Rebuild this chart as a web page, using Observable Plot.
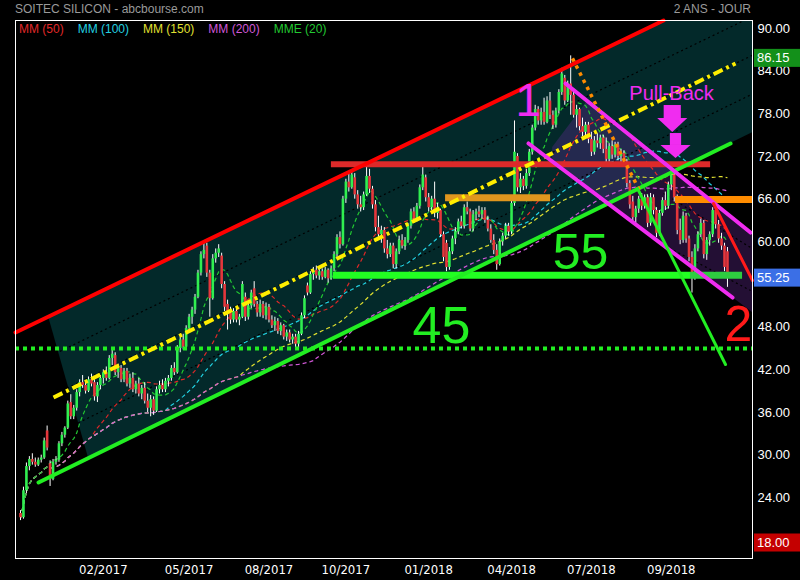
<!DOCTYPE html>
<html lang="fr">
<head>
<meta charset="utf-8">
<title>SOITEC SILICON - abcbourse.com</title>
<script src="https://cdn.jsdelivr.net/npm/d3@7"></script>
<script src="https://cdn.jsdelivr.net/npm/@observablehq/plot@0.6"></script>
<style>
  html, body { margin: 0; padding: 0; background: #000; }
  #chart { width: 800px; height: 580px; }
</style>
</head>
<body>
<div id="chart"></div>
<script>
// ---- Daily candles (each candle covers about two sessions) ----
const open = [
21.8,21.2,25.0,28.4,29.4,29.0,28.6,29.3,29.6,33.4,
28.8,26.6,29.0,29.3,31.6,32.8,33.8,37.4,35.4,36.6,
38.8,40.2,39.8,39.0,40.6,40.2,38.2,39.8,40.8,41.6,
40.8,43.6,44.0,41.6,42.2,40.6,41.8,40.0,40.8,39.2,
40.0,38.6,39.4,37.6,36.6,37.8,36.2,39.2,39.8,39.2,
40.4,40.8,42.2,41.6,45.0,46.2,45.2,47.8,49.4,50.4,
52.2,55.6,58.2,59.4,55.6,52.0,57.6,58.4,58.0,54.0,
51.2,50.0,49.0,50.2,49.0,49.4,52.2,49.4,51.0,53.4,
51.2,50.0,51.2,49.6,50.8,49.0,48.2,48.8,47.4,48.2,
46.6,47.2,46.2,46.6,45.6,47.0,49.6,53.8,52.8,55.4,
56.0,55.2,55.8,55.0,56.0,54.8,56.2,58.2,60.6,59.6,
66.0,68.4,67.6,69.0,66.6,65.2,64.8,66.6,69.2,67.4,
65.2,62.0,61.0,61.6,59.0,58.2,59.4,56.8,58.6,60.2,
59.4,60.2,62.2,64.2,63.2,65.0,67.6,69.0,66.2,64.8,
66.0,64.0,64.4,61.0,59.8,56.4,58.6,60.4,61.4,62.8,
62.2,64.8,64.2,61.8,63.8,64.2,63.8,64.4,63.0,61.8,
60.2,58.8,56.8,60.0,60.8,62.2,61.4,65.4,72.0,67.6,
68.8,67.8,69.6,72.6,76.0,78.6,77.0,78.2,76.8,79.8,
77.8,76.4,78.4,81.0,83.0,79.8,82.2,80.6,77.8,78.6,
76.2,75.4,76.4,74.4,72.6,74.2,73.8,74.6,73.0,71.6,
73.4,72.2,73.6,72.0,72.4,71.2,68.2,65.6,63.4,64.6,
66.0,65.0,66.2,62.6,66.2,64.4,61.2,64.0,65.8,65.0,
68.0,69.4,66.2,61.6,60.2,63.6,60.4,57.8,55.0,59.0,
61.0,62.6,58.2,60.2,61.0,64.4,62.4,60.4,59.4,58.6
];
const high = [
22.2,25.5,28.9,29.8,30.2,29.6,29.6,30.0,32.4,34.1,
29.2,29.4,29.8,31.9,33.2,34.0,37.6,38.5,37.0,39.2,
40.6,41.2,40.4,41.0,41.4,40.6,40.2,41.2,42.0,42.4,
44.0,45.0,44.4,42.8,42.6,42.2,42.2,41.4,41.6,40.4,
40.8,39.8,40.2,38.6,38.4,38.2,39.6,40.4,40.6,40.8,
41.2,42.6,43.0,45.4,46.6,47.0,48.2,49.8,50.8,52.6,
56.0,58.6,59.8,59.8,56.0,58.2,59.0,59.6,58.4,54.4,
51.8,50.8,50.6,50.6,49.8,54.4,52.8,51.6,53.2,54.4,
51.6,51.8,51.6,51.4,51.2,49.6,49.4,49.2,48.6,48.4,
47.6,47.6,47.0,47.0,47.4,50.0,52.4,54.2,55.8,56.4,
56.6,56.2,56.2,56.4,56.2,56.6,58.6,61.0,61.4,66.4,
68.8,69.6,70.0,69.6,67.2,66.4,67.0,70.6,70.2,67.8,
65.8,63.6,62.2,62.0,60.2,59.8,59.8,59.0,60.8,61.0,
60.6,62.6,64.6,64.8,65.4,68.0,70.6,69.4,66.8,66.4,
68.4,65.4,64.6,61.4,60.2,59.2,60.8,62.0,63.2,63.6,
65.2,65.6,64.6,64.4,64.6,65.0,64.8,64.8,63.6,62.4,
61.0,59.6,60.4,61.2,62.6,62.6,65.8,77.0,72.4,69.6,
69.2,70.2,73.0,76.4,79.2,79.0,78.8,80.2,80.4,81.0,
78.4,78.8,81.4,84.4,83.4,82.6,86.15,81.2,79.2,78.8,
77.4,76.8,76.8,75.4,74.8,75.2,75.0,75.0,74.6,73.8,
74.2,74.0,74.0,73.0,72.8,71.6,68.6,66.4,65.0,66.4,
66.8,66.6,66.6,66.8,66.6,64.8,64.4,66.2,67.0,68.4,
70.0,69.8,66.6,63.2,64.2,64.0,60.8,58.6,59.6,61.4,
63.2,63.0,60.6,61.4,64.8,64.8,63.0,61.2,59.8,59.2
];
const low = [
20.8,21.0,24.6,27.8,28.6,28.3,28.4,28.9,29.4,30.6,
25.6,26.4,28.6,29.0,31.2,32.4,33.6,35.0,35.0,36.2,
38.2,39.4,38.6,38.8,39.6,37.6,37.4,39.2,40.0,40.4,
40.6,42.6,41.2,40.8,40.2,40.2,39.6,39.4,38.8,38.6,
38.2,37.8,37.2,36.0,35.4,35.6,36.0,38.6,38.8,38.8,
39.6,40.4,41.2,41.4,44.4,44.8,45.0,47.4,48.4,49.8,
52.0,55.2,57.6,55.0,49.4,51.8,57.0,57.8,53.4,50.2,
47.6,48.4,48.6,48.6,48.2,49.2,48.8,49.0,50.6,50.8,
49.4,49.4,49.2,49.0,48.6,47.8,47.4,47.0,46.8,46.2,
46.0,45.8,45.6,45.0,45.0,46.8,49.2,52.4,52.6,54.6,
54.8,54.6,54.6,54.8,54.2,54.6,55.8,57.8,59.0,59.4,
65.4,67.0,67.4,66.0,64.6,64.2,64.4,66.4,66.8,64.6,
61.4,60.4,59.8,58.4,57.6,57.8,56.2,56.2,58.2,59.0,
58.8,59.8,61.8,62.6,62.8,64.6,67.2,65.6,64.2,64.4,
63.4,63.2,60.6,57.2,55.8,56.0,58.2,59.6,61.0,61.8,
61.8,63.8,61.4,61.4,63.0,63.4,63.2,62.6,61.4,59.8,
58.2,56.0,56.6,59.4,60.4,60.8,61.0,65.0,67.0,66.8,
67.2,67.4,69.2,72.2,75.6,76.4,76.4,76.4,76.6,77.2,
75.8,76.0,78.0,80.6,79.2,79.6,77.8,77.4,76.0,75.6,
74.8,74.6,73.8,72.0,72.2,73.2,73.0,72.4,71.0,71.2,
71.6,71.8,71.4,70.8,70.6,67.6,64.6,62.8,62.6,64.0,
64.4,64.6,62.0,62.2,63.8,60.6,60.8,63.6,64.4,64.6,
67.2,65.6,61.0,59.6,59.8,59.8,57.2,52.8,54.6,58.6,
60.6,57.6,57.4,59.4,60.6,61.8,59.8,58.8,55.8,53.6
];
const close = [
21.2,25.0,28.4,29.4,29.0,28.6,29.3,29.6,32.0,31.0,
26.6,29.0,29.3,31.6,32.8,33.8,37.2,35.4,36.6,38.8,
40.2,39.8,39.0,40.6,40.0,38.2,39.8,40.8,41.6,40.8,
43.6,44.2,41.6,42.2,40.6,41.8,40.0,40.8,39.2,40.0,
38.6,39.4,37.6,36.6,37.8,36.2,39.2,39.8,39.2,40.4,
40.8,42.2,41.6,45.0,46.2,45.2,47.8,49.4,50.4,52.2,
55.6,58.2,58.8,55.6,52.0,57.6,58.4,59.0,54.0,50.8,
50.0,49.0,50.2,49.0,49.4,54.0,49.4,51.0,52.8,51.2,
50.0,51.2,49.6,50.8,49.0,48.2,48.8,47.4,48.2,46.6,
47.2,46.2,46.6,45.6,47.0,49.6,52.0,52.8,55.4,56.0,
55.2,55.8,55.0,56.0,54.8,56.2,58.2,60.6,59.6,66.0,
68.4,67.6,69.4,66.6,65.2,64.8,66.6,69.2,67.4,65.2,
62.0,61.0,61.6,59.0,58.2,59.4,56.8,58.6,60.2,59.4,
60.2,62.2,64.2,63.2,65.0,67.6,69.4,66.2,64.8,66.0,
64.0,64.8,61.0,57.8,56.4,58.6,60.4,61.4,62.8,62.2,
64.8,64.2,61.8,63.8,64.2,63.8,64.4,63.0,61.8,60.2,
58.8,56.8,60.0,60.8,62.2,61.4,65.4,72.6,67.6,68.8,
67.8,69.6,72.6,76.0,78.6,77.0,78.2,76.8,79.8,77.8,
76.4,78.4,81.0,83.6,79.8,82.2,80.6,77.8,78.6,76.2,
75.4,76.4,74.4,72.6,74.2,73.8,74.6,73.0,71.6,73.4,
72.2,73.6,72.0,72.4,71.2,68.2,65.2,63.4,64.6,66.0,
65.0,66.2,62.6,66.2,64.4,61.2,64.0,65.8,65.0,68.0,
69.4,66.2,61.6,60.2,63.6,60.4,57.8,55.0,59.0,61.0,
62.6,58.2,60.2,61.0,64.4,62.4,60.4,59.4,56.4,55.25
];

// ---- Axes ----
const tickIndex  = [28, 57, 84, 110, 138, 166, 193, 220];
const tickLabels = ["02/2017", "05/2017", "08/2017", "10/2017", "01/2018", "04/2018", "07/2018", "09/2018"];
const priceTicks = [24, 30, 36, 42, 48, 60, 66, 72, 78, 84, 90];
const priceBadges = [86.15, 55.25, 18.00];   // highest, last, axis floor

// ---- Moving averages ----
const averageNames   = ["MM (50)", "MM (100)", "MM (150)", "MM (200)", "MME (20)"];
const averagePeriods = [50, 100, 150, 200, 20];
const sessionsPerCandle = 2;

// ---- Drawn analysis: [candle index, price] at each end ----
const channelTop    = [[-1.69, 47.25], [217.38, 91.12]];
const channelBottom = [[6.09, 26.16], [240.03, 73.83]];
const channelMid    = [[11.16, 38.11], [241.72, 85.08]];
const channelStart  = [9.47, 22.99];          // left edge of the shaded channel
const downTop       = [[184.25, 82.27], [246.79, 61.31]];
const downBottom    = [[171.74, 73.83], [240.70, 52.17]];
const downStart     = [179.9, 191.7];         // left edge of the shaded down channel
const downGuides    = [[[217.4, 66.8], [246.8, 59.2]], [[216.4, 59.77], [246.8, 53.16]]];
const peakFall      = [[186.6, 85.8], [209.6, 66.94]];
const breakLine     = [[208.59, 67.5], [238.34, 42.75]];
const lastDrop      = [[234.28, 65.39], [247.46, 54.56]];

// horizontal levels: price, first index, last index
const resistance = [70.9, 105.1, 233.3];
const zoneLeft   = [66.2, 143.7, 179.2];
const zoneRight  = [65.95, 221.4, 247.46];
const support    = [55.3, 105.8, 226.5, 244.1];
const floorLevel = 45;

// pull-back arrows: centre index, top, neck, tip
const pullArrows = [[220.5, 79.17, 77.34, 75.37], [221.6, 75.23, 73.55, 71.72]];

const xDomain = [-1.69, 247.46];
const yDomain = [15.47, 91.125];

// ---------------------------------------------------------------
const candles = close.map((c, i) => ({i, open: open[i], high: high[i], low: low[i], close: c}));
const rising  = candles.filter(d => d.close >= d.open);
const falling = candles.filter(d => d.close < d.open);

const at = (seg, x) => {
  const [[x0, y0], [x1, y1]] = seg;
  return y0 + (y1 - y0) * (x - x0) / (x1 - x0);
};
const xAtPrice = (seg, y) => {
  const [[x0, y0], [x1, y1]] = seg;
  return x0 + (x1 - x0) * (y - y0) / (y1 - y0);
};
const seg = s => s.map(([x, y]) => ({x, y}));

const [xMin, xMax] = xDomain;
const yTop = yDomain[1];

// shaded rising channel
const topExit = xAtPrice(channelTop, yTop);
const tealArea = [
  {x: channelStart[0], y1: at(channelTop, channelStart[0]), y2: at(channelTop, channelStart[0])},
  {x: channelStart[1], y1: at(channelBottom, channelStart[1]), y2: at(channelTop, channelStart[1])},
  {x: topExit, y1: at(channelBottom, topExit), y2: yTop},
  {x: xMax, y1: at(channelBottom, xMax), y2: yTop}
];

// shaded falling channel
const purpleArea = [
  {x: downStart[0], y1: at(downBottom, downStart[0]), y2: at(downBottom, downStart[0]) + 2},
  {x: downStart[1], y1: at(downBottom, downStart[1]), y2: at(downTop, downStart[1])},
  {x: xMax, y1: at(downBottom, xMax), y2: at(downTop, xMax)}
];

// quarter guides inside the rising channel
const quarter = (t, x) => at(channelTop, x) + (at(channelBottom, x) - at(channelTop, x)) * t;
const guideEnd = t => {
  let x = xMax;
  while (quarter(t, x) > yTop && x > 0) x -= 0.1;
  return x;
};
const guides = [[0.25, 11.8], [0.5, 11.16], [0.75, 18]].map(([t, x0]) => {
  const x1 = guideEnd(t);
  return [{x: x0, y: quarter(t, x0)}, {x: x1, y: quarter(t, x1)}];
});

// pull-back arrow pieces
const shafts = pullArrows.map(([cx, top, neck], k) => ({
  x1: cx - (k === 0 ? 2.9 : 1.9), x2: cx + (k === 0 ? 2.9 : 1.9), y1: neck, y2: top
}));
const heads = pullArrows.flatMap(([cx, top, neck, tip], k) => [
  {id: k, x: cx - 5.1, y1: neck, y2: neck},
  {id: k, x: cx, y1: tip, y2: neck},
  {id: k, x: cx + 5.1, y1: neck, y2: neck}
]);

const maColors = ["#e02828", "#22d0e0", "#e0e030", "#d258d8", "#22c832"];
const magenta = "#f02cf0";
const font = "'Liberation Sans', Arial, sans-serif";
const butt = {strokeLinecap: "butt", strokeLinejoin: "miter"};

const chart = Plot.plot({
  width: 800,
  height: 580,
  marginTop: 20,
  marginRight: 48,
  marginBottom: 22,
  marginLeft: 15,
  style: {background: "#000", color: "#fff", fontFamily: font, fontSize: "13px", overflow: "visible"},
  x: {domain: xDomain, axis: "bottom", ticks: tickIndex, tickFormat: d => tickLabels[tickIndex.indexOf(d)],
      tickSize: 0, tickPadding: 6, label: null},
  y: {domain: yDomain, axis: "right", ticks: priceTicks, tickFormat: d => d.toFixed(2),
      tickSize: 0, tickPadding: 5, label: null},
  marks: [
    // channel shading
    Plot.areaY(tealArea, {x: "x", y1: "y1", y2: "y2", fill: "#03292a"}),
    Plot.areaY(purpleArea, {x: "x", y1: "y1", y2: "y2", fill: "#652a96", fillOpacity: 0.35}),

    // dotted guides
    ...guides.map(g => Plot.line(g, {x: "x", y: "y", stroke: "#000", strokeWidth: 1.2, strokeDasharray: "2,3", ...butt})),
    ...downGuides.map(g => Plot.line(seg(g), {x: "x", y: "y", stroke: "#000", strokeWidth: 1.2, strokeDasharray: "2,3", ...butt})),

    // moving averages
    ...averagePeriods.map((p, j) => Plot.lineY(candles, Plot.windowY(
      {k: Math.max(1, Math.round(p / sessionsPerCandle)), anchor: "end", reduce: "mean"},
      {x: "i", y: "close", stroke: maColors[j], strokeWidth: 1.2, strokeDasharray: "4,3", ...butt}))),

    // candles
    Plot.ruleX(candles, {x: "i", y1: "low", y2: "high", stroke: "#fff", strokeWidth: 1}),
    Plot.ruleX(rising, {x: "i", y1: "open", y2: "close", stroke: "#30ee50", strokeWidth: 2.6}),
    Plot.ruleX(falling, {x: "i", y1: "open", y2: "close", stroke: "#e5363b", strokeWidth: 2.6}),

    // horizontal levels
    Plot.ruleY([resistance], {y: d => d[0], x1: d => d[1], x2: d => d[2], stroke: "#dd2a2a", strokeWidth: 6}),
    Plot.ruleY([zoneLeft], {y: d => d[0], x1: d => d[1], x2: d => d[2], stroke: "#e0961e", strokeWidth: 7}),
    Plot.ruleY([zoneRight], {y: d => d[0], x1: d => d[1], x2: d => d[2], stroke: "#ff8c00", strokeWidth: 7}),
    Plot.ruleY([support], {y: d => d[0], x1: d => d[1], x2: d => d[2], stroke: "#22ff22", strokeWidth: 7}),
    Plot.ruleY([support], {y: d => d[0], x1: d => d[2], x2: d => d[3], stroke: "#2ecc40", strokeWidth: 7}),
    Plot.ruleY([floorLevel], {stroke: "#22ee22", strokeWidth: 4, strokeDasharray: "4,4", ...butt}),

    // trend lines
    Plot.line(seg(channelTop), {x: "x", y: "y", stroke: "#ff0000", strokeWidth: 4}),
    Plot.line(seg(channelBottom), {x: "x", y: "y", stroke: "#22ee22", strokeWidth: 4}),
    Plot.line(seg(channelMid), {x: "x", y: "y", stroke: "#ffee00", strokeWidth: 4, strokeDasharray: "10,4,3,4", ...butt}),
    Plot.line(seg(downTop), {x: "x", y: "y", stroke: magenta, strokeWidth: 4}),
    Plot.line(seg(downBottom), {x: "x", y: "y", stroke: magenta, strokeWidth: 4}),
    Plot.line(seg(peakFall), {x: "x", y: "y", stroke: "#ff8c00", strokeWidth: 3.5, strokeDasharray: "3.5,4.5", ...butt}),
    Plot.line(seg(breakLine), {x: "x", y: "y", stroke: "#22ee22", strokeWidth: 3}),
    Plot.line(seg(lastDrop), {x: "x", y: "y", stroke: "#ff1a1a", strokeWidth: 3}),

    // labels
    Plot.text([{x: 171.7, y: 79.8}], {x: "x", y: "y", text: () => "1", fill: magenta, fontSize: 46}),
    Plot.text([{x: 220.1, y: 80.9}], {x: "x", y: "y", text: () => "Pull-Back", fill: magenta, fontSize: 20}),
    Plot.text([{x: 189.3, y: 58.5}], {x: "x", y: "y", text: () => "55", fill: "#22ee22", fontSize: 50}),
    Plot.text([{x: 142.3, y: 48.1}], {x: "x", y: "y", text: () => "45", fill: "#22ee22", fontSize: 52}),
    Plot.text([{x: 242.7, y: 48.3}], {x: "x", y: "y", text: () => "2", fill: "#ff1a1a", fontSize: 50}),

    // pull-back arrows
    Plot.rect(shafts, {x1: "x1", x2: "x2", y1: "y1", y2: "y2", fill: magenta}),
    Plot.areaY(heads, {x: "x", y1: "y1", y2: "y2", z: "id", fill: magenta}),

    Plot.frame({stroke: "#fff", strokeWidth: 1})
  ]
});

document.getElementById("chart").append(chart);

// ---- header, legend and price badges ----
const svg = d3.select(chart);
const yScale = chart.scale("y");

svg.selectAll('[aria-label^="x-axis"] text')
  .attr("font-family", "'Liberation Sans Narrow', 'Arial Narrow', 'DejaVu Sans Condensed', sans-serif")
  .attr("font-size", 13);

const label = (x, y, anchor) => svg.append("text")
  .attr("x", x).attr("y", y).attr("text-anchor", anchor).attr("font-family", font);

label(15, 13, "start").attr("fill", "#9a9a9a").attr("font-size", 12).text("SOITEC SILICON - abcbourse.com");
label(751, 13, "end").attr("fill", "#9a9a9a").attr("font-size", 12).text("2 ANS - JOUR");

const legend = label(19, 32.5, "start").attr("font-size", 12);
averageNames.forEach((name, j) => {
  legend.append("tspan").attr("dx", j === 0 ? 0 : 14).attr("fill", maColors[j]).text(name);
});

const badgeColors = ["#13901a", "#3b6fe6", "#c40000"];
priceBadges.forEach((v, j) => {
  const yy = yScale.apply(v);
  svg.append("rect").attr("x", 754).attr("y", yy - 6.5).attr("width", 46).attr("height", 18)
    .attr("fill", badgeColors[j]);
  label(757, yy + 2.5, "start").attr("dy", "0.35em")
    .attr("fill", "#fff").attr("font-size", 13)
    .text(v.toFixed(2));
});
</script>
</body>
</html>
